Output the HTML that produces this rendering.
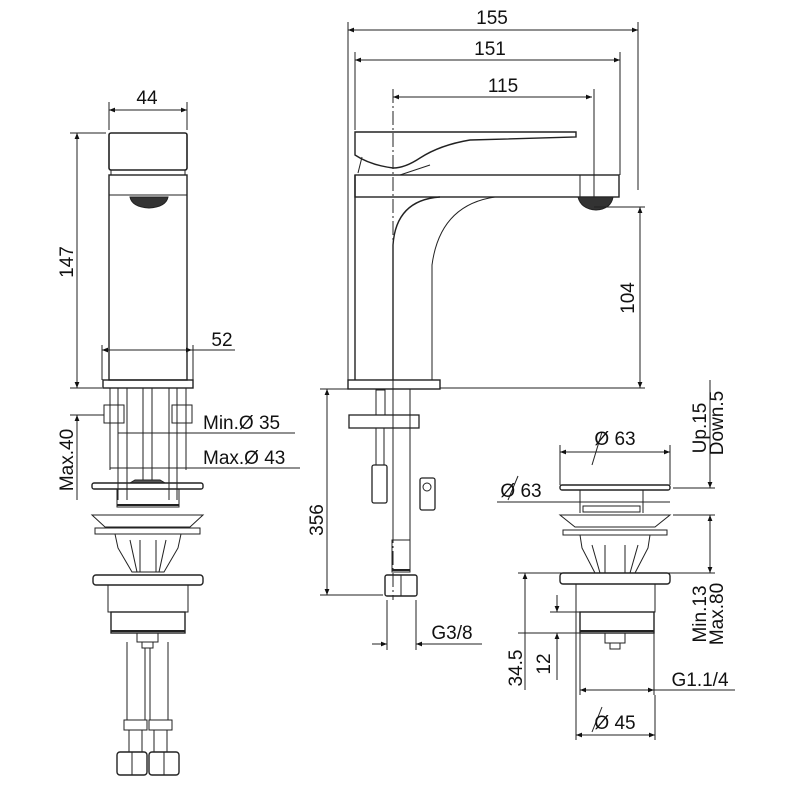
<!DOCTYPE html>
<html><head><meta charset="utf-8"><style>
html,body{margin:0;padding:0;background:#fff}
svg{display:block}
text{font-family:"Liberation Sans",sans-serif;font-size:19px;fill:#111}
</style></head><body>
<svg width="800" height="800" viewBox="0 0 800 800" xmlns="http://www.w3.org/2000/svg">
<defs>
<marker id="a" viewBox="0 0 10 10" refX="10" refY="5" markerWidth="9" markerHeight="6" orient="auto-start-reverse" markerUnits="userSpaceOnUse"><path d="M0,1 L10,5 L0,9z" fill="#111"/></marker>
</defs>
<g stroke="#222" stroke-width="1" fill="none">
<line x1="348" y1="30" x2="638" y2="30" marker-start="url(#a)" marker-end="url(#a)"/>
<line x1="348" y1="22" x2="348" y2="385"/><line x1="638" y1="22" x2="638" y2="190"/>
<line x1="355" y1="60" x2="620" y2="60" marker-start="url(#a)" marker-end="url(#a)"/>
<line x1="355" y1="52" x2="355" y2="130"/><line x1="620" y1="52" x2="620" y2="175"/>
<line x1="393" y1="97" x2="592" y2="97" marker-start="url(#a)" marker-end="url(#a)"/>
<line x1="393" y1="89" x2="393" y2="600" stroke-dasharray="14,3,2,3"/><line x1="594" y1="89" x2="594" y2="210"/>

<line x1="109" y1="110" x2="187" y2="110" marker-start="url(#a)" marker-end="url(#a)"/>
<line x1="109" y1="102" x2="109" y2="130"/><line x1="187" y1="102" x2="187" y2="130"/>
<rect x="109" y="133" width="78" height="37" rx="2" stroke-width="1.6"/>
<rect x="111" y="170" width="74" height="5" />
<rect x="109" y="175" width="78" height="205" stroke-width="1.4"/>
<line x1="109" y1="195" x2="187" y2="195"/>
<path d="M130,197 L168,197 Q166,207 149,208 Q132,207 130,197z" fill="#333"/>
<line x1="70" y1="133" x2="106" y2="133"/>
<line x1="77" y1="133" x2="77" y2="388" marker-start="url(#a)" marker-end="url(#a)"/>
<line x1="70" y1="388" x2="102" y2="388"/>
<line x1="102" y1="350" x2="192" y2="350" marker-start="url(#a)" marker-end="url(#a)"/>
<line x1="192" y1="350" x2="235" y2="350"/>
<line x1="102" y1="345" x2="102" y2="380"/><line x1="193" y1="345" x2="193" y2="380"/>
<rect x="103" y="380" width="90" height="8" stroke-width="1.4"/>
<line x1="110" y1="388" x2="110" y2="470"/><line x1="186" y1="388" x2="186" y2="470"/>
<line x1="118" y1="388" x2="118" y2="500"/><line x1="127" y1="388" x2="127" y2="500"/>
<line x1="169" y1="388" x2="169" y2="500"/><line x1="177" y1="388" x2="177" y2="500"/>
<line x1="143" y1="388" x2="143" y2="480"/><line x1="152" y1="388" x2="152" y2="480"/>
<rect x="104" y="405" width="20" height="18"/><rect x="172" y="405" width="20" height="18"/>
<line x1="70" y1="415" x2="104" y2="415"/>
<line x1="77" y1="415" x2="77" y2="500" marker-start="url(#a)"/>
<line x1="118" y1="433" x2="295" y2="433"/>
<line x1="110" y1="468" x2="300" y2="468"/>
<path d="M135,480 L160,480 L165,483 L130,483z" fill="#555"/>
<rect x="92" y="483" width="111" height="6" rx="2" stroke-width="1.4"/>
<rect x="117" y="489" width="62" height="18"/>
<line x1="117" y1="505" x2="179" y2="505" stroke-width="2"/>
<path d="M92,515 L203,515 L190,527 L105,527z"/>
<rect x="95" y="528" width="105" height="6"/>
<path d="M115,534 L181,534 L178,548 L164,572 L132,572 L118,548z"/>
<line x1="130" y1="540" x2="137" y2="572"/><line x1="166" y1="540" x2="159" y2="572"/>
<line x1="140" y1="540" x2="140" y2="572"/><line x1="156" y1="540" x2="156" y2="572"/>
<rect x="93" y="575" width="110" height="10" rx="3" stroke-width="1.4"/>
<rect x="108" y="585" width="80" height="27"/>
<rect x="111" y="612" width="74" height="21" stroke-width="1.4"/>
<line x1="111" y1="631" x2="185" y2="631" stroke-width="2"/>
<rect x="137" y="633" width="21" height="9"/>
<rect x="142" y="642" width="11" height="6"/>
<line x1="127" y1="642" x2="127" y2="720"/><line x1="145" y1="648" x2="145" y2="720"/>
<line x1="150" y1="648" x2="150" y2="720"/><line x1="168" y1="642" x2="168" y2="720"/>
<rect x="124" y="720" width="23" height="10"/><rect x="149" y="720" width="23" height="10"/>
<line x1="129" y1="730" x2="129" y2="752"/><line x1="142" y1="730" x2="142" y2="752"/>
<line x1="154" y1="730" x2="154" y2="752"/><line x1="167" y1="730" x2="167" y2="752"/>
<rect x="117" y="752" width="30" height="23" rx="3" stroke-width="1.4"/>
<rect x="149" y="752" width="30" height="23" rx="3" stroke-width="1.4"/>
<line x1="132" y1="752" x2="132" y2="775"/><line x1="164" y1="752" x2="164" y2="775"/>

<path d="M355,132 L576,132 L576,137 L470,140 Q440,145 420,158 Q405,168 393,168 Q370,165 355,155z" stroke-width="1.4"/>
<path d="M362,157 L358,173 M430,165 L400,175"/>
<rect x="355" y="175" width="264" height="22" stroke-width="1.4" fill="none"/>
<line x1="580" y1="175" x2="580" y2="197"/>
<path d="M578,197 L613,197 Q611,209 596,210 Q581,209 578,197z" fill="#333"/>
<line x1="355" y1="175" x2="355" y2="380" stroke-width="1.4"/>
<path d="M393,380 L393,245 Q396,200 440,197" stroke-width="1.4"/>
<path d="M432,380 L432,265 Q440,205 495,197"/>
<rect x="348" y="380" width="92" height="9" stroke-width="1.4"/>
<line x1="594" y1="207" x2="645" y2="207"/>
<line x1="440" y1="388" x2="645" y2="388"/>
<line x1="640" y1="207" x2="640" y2="388" marker-start="url(#a)" marker-end="url(#a)"/>
<line x1="320" y1="389" x2="348" y2="389"/>
<line x1="327" y1="389" x2="327" y2="595" marker-start="url(#a)" marker-end="url(#a)"/>
<line x1="320" y1="595" x2="383" y2="595"/>
<rect x="376" y="390" width="9" height="25"/>
<rect x="349" y="415" width="70" height="13" stroke-width="1.3"/>
<rect x="376" y="428" width="8" height="37"/>
<rect x="372" y="465" width="15" height="38" rx="2" stroke-width="1.3"/>
<line x1="393" y1="389" x2="393" y2="540"/><line x1="410" y1="389" x2="410" y2="540"/>
<rect x="392" y="540" width="18" height="32"/>
<line x1="392" y1="570" x2="410" y2="570" stroke-width="2"/>
<rect x="385" y="575" width="32" height="21" rx="2" stroke-width="1.4"/>
<line x1="401" y1="575" x2="401" y2="596"/>
<rect x="420" y="478" width="15" height="32" rx="2" stroke-width="1.3"/>
<circle cx="427" cy="487" r="4"/>
<line x1="387" y1="600" x2="387" y2="650"/><line x1="416" y1="600" x2="416" y2="650"/>
<line x1="372" y1="644" x2="387" y2="644" marker-end="url(#a)"/>
<line x1="416" y1="644" x2="482" y2="644" marker-start="url(#a)"/>

<line x1="560" y1="452" x2="670" y2="452" marker-start="url(#a)" marker-end="url(#a)"/>
<line x1="560" y1="445" x2="560" y2="485"/><line x1="670" y1="445" x2="670" y2="485"/>
<line x1="592" y1="465" x2="602" y2="432"/>
<rect x="560" y="485" width="110" height="5" rx="2" stroke-width="1.4"/>
<line x1="497" y1="502" x2="670" y2="502"/>
<line x1="580" y1="490" x2="580" y2="513"/><line x1="643" y1="490" x2="643" y2="513"/>
<rect x="583" y="506" width="57" height="6"/>
<path d="M560,515 L670,515 L655,527 L575,527z"/>
<rect x="563" y="530" width="104" height="5"/>
<path d="M580,535 L650,535 L648,548 L635,573 L595,573 L582,548z"/>
<line x1="592" y1="545" x2="600" y2="573"/><line x1="638" y1="545" x2="630" y2="573"/>
<line x1="605" y1="545" x2="605" y2="573"/><line x1="625" y1="545" x2="625" y2="573"/>
<rect x="560" y="573" width="110" height="11" rx="3" stroke-width="1.4"/>
<rect x="576" y="584" width="79" height="28"/>
<rect x="580" y="612" width="74" height="21" stroke-width="1.4"/>
<line x1="580" y1="631" x2="654" y2="631" stroke-width="2"/>
<rect x="605" y="633" width="20" height="10"/>
<rect x="610" y="643" width="10" height="6"/>
<line x1="673" y1="488" x2="715" y2="488"/>
<line x1="673" y1="515" x2="715" y2="515"/>
<line x1="710" y1="380" x2="710" y2="488" marker-end="url(#a)"/>
<line x1="710" y1="515" x2="710" y2="573" marker-start="url(#a)" marker-end="url(#a)"/>
<line x1="518" y1="573" x2="715" y2="573"/>
<line x1="525" y1="573" x2="525" y2="690" marker-start="url(#a)"/>
<line x1="518" y1="633" x2="580" y2="633"/>
<line x1="557" y1="595" x2="557" y2="612" marker-end="url(#a)"/>
<line x1="557" y1="633" x2="557" y2="680" marker-start="url(#a)"/>
<line x1="550" y1="612" x2="576" y2="612"/>
<line x1="580" y1="633" x2="580" y2="695"/><line x1="654" y1="633" x2="654" y2="695"/>
<line x1="580" y1="690" x2="654" y2="690" marker-start="url(#a)" marker-end="url(#a)"/>
<line x1="654" y1="690" x2="735" y2="690"/>
<line x1="576" y1="612" x2="576" y2="740"/><line x1="655" y1="695" x2="655" y2="740"/>
<line x1="576" y1="735" x2="655" y2="735" marker-start="url(#a)" marker-end="url(#a)"/>
<line x1="592" y1="732" x2="602" y2="707"/>
<line x1="508" y1="500" x2="518" y2="476"/>
</g>
<g>
<text x="492" y="24" text-anchor="middle">155</text>
<text x="490" y="55" text-anchor="middle">151</text>
<text x="503" y="92" text-anchor="middle">115</text>
<text x="147" y="104" text-anchor="middle">44</text>
<text x="222" y="346" text-anchor="middle">52</text>
<text transform="translate(73,262) rotate(-90)" text-anchor="middle">147</text>
<text transform="translate(73,460) rotate(-90)" text-anchor="middle">Max.40</text>
<text x="203" y="429">Min.Ø 35</text>
<text x="203" y="464">Max.Ø 43</text>
<text transform="translate(634,298) rotate(-90)" text-anchor="middle">104</text>
<text transform="translate(323,520) rotate(-90)" text-anchor="middle">356</text>
<text x="452" y="639" text-anchor="middle">G3/8</text>
<text x="615" y="445" text-anchor="middle">Ø 63</text>
<text x="521" y="497" text-anchor="middle">Ø 63</text>
<text transform="translate(706,428) rotate(-90)" text-anchor="middle">Up.15</text>
<text transform="translate(723,423) rotate(-90)" text-anchor="middle">Down.5</text>
<text transform="translate(706,614) rotate(-90)" text-anchor="middle">Min.13</text>
<text transform="translate(723,614) rotate(-90)" text-anchor="middle">Max.80</text>
<text transform="translate(522,668) rotate(-90)" text-anchor="middle">34.5</text>
<text transform="translate(550,664) rotate(-90)" text-anchor="middle">12</text>
<text x="700" y="686" text-anchor="middle">G1.1/4</text>
<text x="615" y="729" text-anchor="middle">Ø 45</text>
</g>
</svg>
</body></html>
